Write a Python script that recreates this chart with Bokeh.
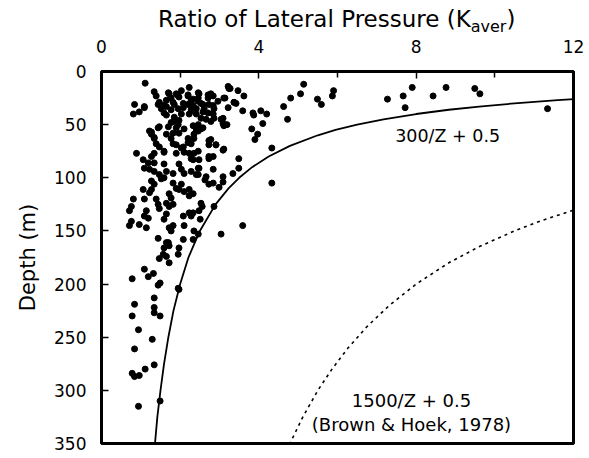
from bokeh.plotting import figure
from bokeh.models import Range1d, FixedTicker, Label, Div
from bokeh.layouts import column
from bokeh.embed import file_html
from bokeh.resources import INLINE

# ---- data ----
title_main = "Ratio of Lateral Pressure (K"
title_sub = "aver"
title_end = ")"
x_ticks = [0, 4, 8, 12]
x_minor_ticks = [2, 6, 10]
y_ticks = [0, 50, 100, 150, 200, 250, 300, 350]

ratio_k = [
    1.11, 1.34, 1.39, 1.72, 1.77, 1.95, 2.23, 2.20, 2.33, 2.46, 0.84, 1.09, 0.96, 0.81, 1.44, 1.52, 1.65, 1.59,
    1.77, 1.85, 1.95, 2.08, 2.20, 2.28, 2.41, 2.03, 2.23, 2.41, 1.85, 1.95, 1.70, 1.47, 1.22, 1.27, 1.34, 1.39,
    1.65, 1.77, 1.82, 1.97, 2.10, 2.20, 2.28, 2.35, 2.46, 2.03, 1.90, 1.59, 1.34, 1.27, 0.89, 2.23, 2.28, 2.46,
    3.22, 3.27, 3.47, 3.62, 5.14, 5.06, 4.81, 4.63, 4.73, 3.14, 3.37, 3.42, 3.22, 3.59, 3.85, 3.87, 4.05, 4.20,
    4.10, 3.82, 3.97, 3.90, 4.33, 3.49, 2.48, 2.71, 2.84, 2.96, 2.46, 2.58, 2.73, 2.86, 2.58, 2.71, 2.84, 2.53,
    2.66, 2.78, 2.46, 2.53, 3.04, 3.09, 3.19, 2.78, 2.73, 2.91, 3.11, 2.73, 2.84,
    1.06, 1.19, 1.09, 1.22, 1.34, 1.34, 1.47, 1.59, 1.65, 1.59, 1.52, 1.82, 1.97, 2.03, 2.10, 2.33, 2.28, 2.46,
    2.41, 1.27, 1.34, 1.06, 1.27, 1.22, 1.82, 1.90, 2.03, 1.97, 2.10, 2.23, 2.33, 2.23, 1.72, 1.77, 0.81, 1.09,
    0.76, 0.71, 1.39, 1.44, 1.47, 1.65, 1.72, 1.82, 1.14, 1.09, 1.19, 1.65, 1.59, 2.08, 2.23, 2.33, 2.28, 2.48,
    0.76, 0.71, 0.96, 1.14, 1.72, 1.82, 1.77, 2.10, 2.35, 1.44, 1.70, 2.08, 2.33,
    2.48, 2.73, 3.49, 2.48, 2.84, 3.34, 2.46, 2.66, 2.63, 2.73, 2.84, 2.99, 3.09, 3.09, 4.33, 2.53, 2.56, 2.86,
    2.51, 3.59, 3.04, 2.46,
    1.65, 1.72, 1.59, 1.97, 1.57, 1.47, 1.65, 1.95, 1.72, 1.09, 1.32, 1.19, 0.78, 1.49, 1.44, 1.95, 1.97, 0.84,
    1.34, 1.34, 1.34, 1.49, 0.78, 0.94, 1.29, 0.84, 0.78, 0.84, 0.96, 1.11, 1.34, 1.49, 0.94,
    5.49, 5.59, 5.87, 5.90, 7.27, 7.67, 7.90, 7.72, 8.43, 8.76, 9.49, 9.62, 11.34,
    1.47, 1.57, 1.65, 1.70, 1.82, 1.90, 1.97, 2.03, 2.08, 2.20, 2.28, 2.33, 2.35, 2.46, 2.53, 2.61, 2.71, 2.78,
    2.84, 2.86, 3.09, 3.11, 3.24, 3.37, 3.11, 1.09, 1.65, 1.77, 1.85, 1.97, 1.90, 1.44, 1.27, 1.34, 1.47, 1.59,
    1.82, 1.90, 2.08, 2.20, 2.35, 2.41, 2.58, 2.33, 2.10, 2.35, 2.73, 2.91, 3.09,
]
depth_m = [
    11, 19, 23, 21, 25, 23, 15, 22, 26, 25, 31, 33, 38, 40, 31, 35, 33, 39,
    36, 31, 35, 30, 31, 36, 35, 40, 40, 40, 47, 50, 52, 52, 56, 59, 63, 68,
    59, 63, 68, 58, 54, 63, 68, 59, 56, 72, 77, 75, 77, 80, 77, 77, 82, 75,
    14, 16, 18, 23, 12, 21, 25, 33, 45, 25, 29, 30, 34, 37, 39, 41, 37, 40,
    49, 54, 59, 64, 72, 82, 21, 22, 23, 28, 28, 31, 31, 35, 38, 39, 40, 44,
    45, 47, 50, 54, 45, 49, 50, 64, 69, 69, 73, 80, 80,
    83, 86, 91, 92, 86, 94, 97, 87, 94, 100, 101, 96, 87, 92, 96, 83, 94, 91,
    97, 103, 106, 111, 111, 114, 105, 110, 106, 111, 113, 111, 115, 117, 115, 119, 120, 120,
    127, 131, 120, 125, 129, 124, 127, 125, 131, 136, 138, 134, 139, 136, 133, 133, 136, 131,
    141, 145, 144, 147, 147, 145, 150, 145, 150, 157, 161, 158, 158,
    83, 82, 91, 91, 92, 96, 97, 99, 102, 106, 105, 109, 99, 104, 105, 124, 127, 127,
    139, 145, 153, 153,
    161, 164, 166, 166, 172, 176, 174, 172, 180, 186, 190, 193, 195, 199, 201, 204, 205, 219,
    213, 222, 227, 230, 230, 243, 252, 261, 284, 287, 286, 280, 276, 310, 315,
    26, 31, 23, 18, 26, 23, 15, 34, 23, 15, 16, 21, 35,
    29, 32, 27, 20, 29, 21, 24, 18, 34, 23, 27, 32, 37, 20, 30, 35, 25, 21,
    32, 44, 44, 25, 16, 29, 51, 34, 41, 48, 43, 46, 53, 53, 57, 62, 71, 76,
    58, 69, 71, 67, 63, 55, 53, 51, 76, 77, 65, 69, 74,
]

# curve 300/Z + 0.5
curve1_depth = [25, 27, 30, 33, 36, 40, 45, 50, 55, 60, 70, 80, 90, 100, 110, 125, 150, 175, 200, 225, 250,
                275, 300, 325, 350]
curve1_k = [12.5, 11.6, 10.5, 9.6, 8.83, 8.0, 7.17, 6.5, 5.95, 5.5, 4.79, 4.25, 3.83, 3.5, 3.23, 2.9, 2.5,
            2.21, 2.0, 1.83, 1.7, 1.59, 1.5, 1.42, 1.36]
# curve 1500/Z + 0.5 (Brown & Hoek, 1978)
curve2_depth = [125, 130, 140, 150, 165, 180, 200, 220, 240, 260, 280, 300, 325, 350]
curve2_k = [12.5, 12.04, 11.21, 10.5, 9.59, 8.83, 8.0, 7.32, 6.75, 6.27, 5.86, 5.5, 5.12, 4.79]

FONT = "DejaVu Sans"

title_html = (
    '<div style="padding-left:158px;padding-top:8px;font-family:\'DejaVu Sans\';font-size:23px;'
    'line-height:23px;white-space:nowrap;color:#000;">'
    + title_main
    + '<span style="font-size:16px;position:relative;top:5px;">' + title_sub + '</span>'
    + title_end + '</div>'
)
title_div = Div(text=title_html, width=589, height=36, margin=(0, 0, 0, 0))

p = figure(width=589, height=422, x_range=Range1d(0, 12), y_range=Range1d(350, 0),
           x_axis_location="above", output_backend="svg", toolbar_location=None,
           min_border_left=101, min_border_right=16, min_border_top=34, min_border_bottom=15,
           margin=(0, 0, 0, 0))
p.grid.visible = False
p.outline_line_color = "black"
p.outline_line_width = 3
p.background_fill_color = "white"
p.border_fill_color = "white"

xa = p.xaxis[0]
xa.ticker = FixedTicker(ticks=x_ticks, minor_ticks=x_minor_ticks)
ya = p.yaxis[0]
ya.ticker = FixedTicker(ticks=y_ticks, minor_ticks=[])
for ax in (xa, ya):
    ax.axis_line_color = None
    ax.major_tick_in = 7
    ax.major_tick_out = 0
    ax.minor_tick_in = 6
    ax.minor_tick_out = 0
    ax.major_tick_line_color = "black"
    ax.major_tick_line_width = 1.5
    ax.minor_tick_line_color = "black"
    ax.minor_tick_line_width = 1.5
    ax.major_label_text_font = FONT
    ax.major_label_text_font_size = "17px"
    ax.major_label_text_color = "black"
xa.major_label_standoff = 19
ya.major_label_standoff = 15
ya.axis_label = "Depth (m)"
ya.axis_label_text_font = FONT
ya.axis_label_text_font_size = "21px"
ya.axis_label_text_font_style = "normal"
ya.axis_label_text_color = "black"
ya.axis_label_standoff = 11

p.scatter(ratio_k, depth_m, size=6, color="black", marker="circle")
p.line(curve1_k, curve1_depth, line_color="black", line_width=1.8)
p.line(curve2_k, curve2_depth, line_color="black", line_width=1.6, line_dash="3 4")

def lab(x, y, t, size):
    p.add_layout(Label(x=x, y=y, text=t, text_font=FONT, text_font_size=size,
                       text_align="center", text_baseline="middle", text_color="black"))

lab(8.80, 61, "300/Z + 0.5", "17.5px")
lab(7.88, 309.7, "1500/Z + 0.5", "18px")
lab(7.88, 332, "(Brown & Hoek, 1978)", "18px")

open("out.html", "w").write(file_html(column(title_div, p, spacing=0), INLINE))
